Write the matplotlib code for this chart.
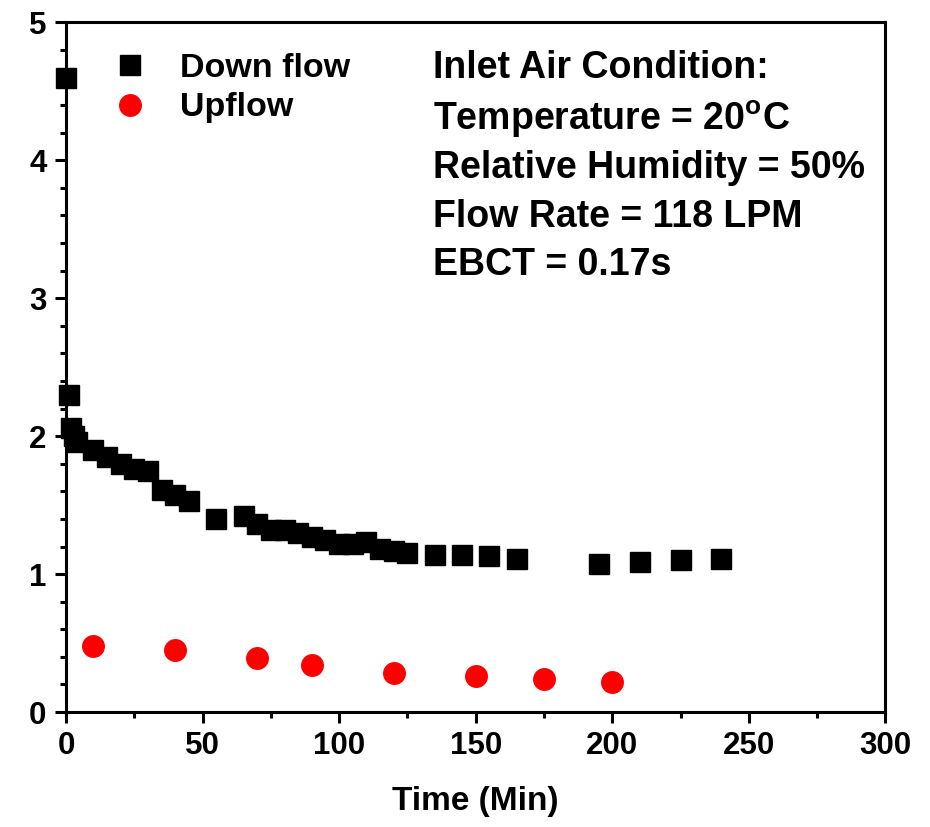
import numpy as np
import matplotlib.pyplot as plt
from matplotlib.ticker import MultipleLocator

# Down flow data (Time in min, value)
down_t = [0, 1, 2, 3, 4, 10, 15, 20, 25, 30, 35, 40, 45, 55, 65, 70, 75, 80,
          85, 90, 95, 100, 105, 110, 115, 120, 125, 135, 145, 155, 165,
          195, 210, 225, 240]
down_y = [4.60, 2.30, 2.06, 2.00, 1.96, 1.90, 1.85, 1.80, 1.76, 1.75, 1.61,
          1.57, 1.53, 1.40, 1.42, 1.36, 1.32, 1.32, 1.30, 1.27, 1.25, 1.22,
          1.22, 1.23, 1.18, 1.17, 1.15, 1.14, 1.14, 1.13, 1.11,
          1.07, 1.09, 1.10, 1.11]

# Upflow data
up_t = [10, 40, 70, 90, 120, 150, 175, 200]
up_y = [0.48, 0.45, 0.39, 0.34, 0.28, 0.26, 0.24, 0.22]

info_lines = ["Inlet Air Condition:",
              r"Temperature = 20$^{\mathbf{o}}$C",
              "Relative Humidity = 50%",
              "Flow Rate = 118 LPM",
              "EBCT = 0.17s"]

plt.rcParams['font.family'] = ['Liberation Sans', 'DejaVu Sans']
plt.rcParams['font.weight'] = 'bold'
plt.rcParams['mathtext.fontset'] = 'custom'
plt.rcParams['mathtext.rm'] = 'Liberation Sans:bold'
plt.rcParams['mathtext.bf'] = 'Liberation Sans:bold'

fig = plt.figure(figsize=(9.3, 8.27), dpi=100)
ax = fig.add_axes([0.071, 0.139, 0.881, 0.834])

ax.plot(down_t, down_y, linestyle='none', marker='s', markersize=14,
        color='black', label='Down flow', clip_on=False, zorder=3)
ax.plot(up_t, up_y, linestyle='none', marker='o', markersize=15.5,
        color='#ff0000', markeredgecolor='#ff0000', label='Upflow',
        clip_on=False, zorder=3)

ax.set_xlim(0, 300)
ax.set_ylim(0, 5)
ax.xaxis.set_major_locator(MultipleLocator(50))
ax.xaxis.set_minor_locator(MultipleLocator(25))
ax.yaxis.set_major_locator(MultipleLocator(1))
ax.yaxis.set_minor_locator(MultipleLocator(0.2))

for s in ax.spines.values():
    s.set_linewidth(2.2)
ax.tick_params(which='major', direction='out', length=8, width=2.2,
               labelsize=22.5, pad=6)
ax.tick_params(which='minor', direction='out', length=4.5, width=2.2)
for lbl in ax.get_xticklabels() + ax.get_yticklabels():
    lbl.set_fontweight('bold')

ax.set_xlabel("Time (Min)", fontsize=24, fontweight='bold', labelpad=18)

ax.legend(loc='upper left', bbox_to_anchor=(0.01, 1.0), frameon=False,
          handletextpad=0.7, labelspacing=0.25, handlelength=1.5,
          prop={'weight': 'bold', 'size': 24.5})

ys = [68, 119, 168, 217, 265]
for txt, yp in zip(info_lines, ys):
    ax.text(0.448, (712 - yp) / 690, txt, transform=ax.transAxes,
            fontsize=27, fontweight='bold', va='center', ha='left')

fig.savefig("out.png", dpi=100)
